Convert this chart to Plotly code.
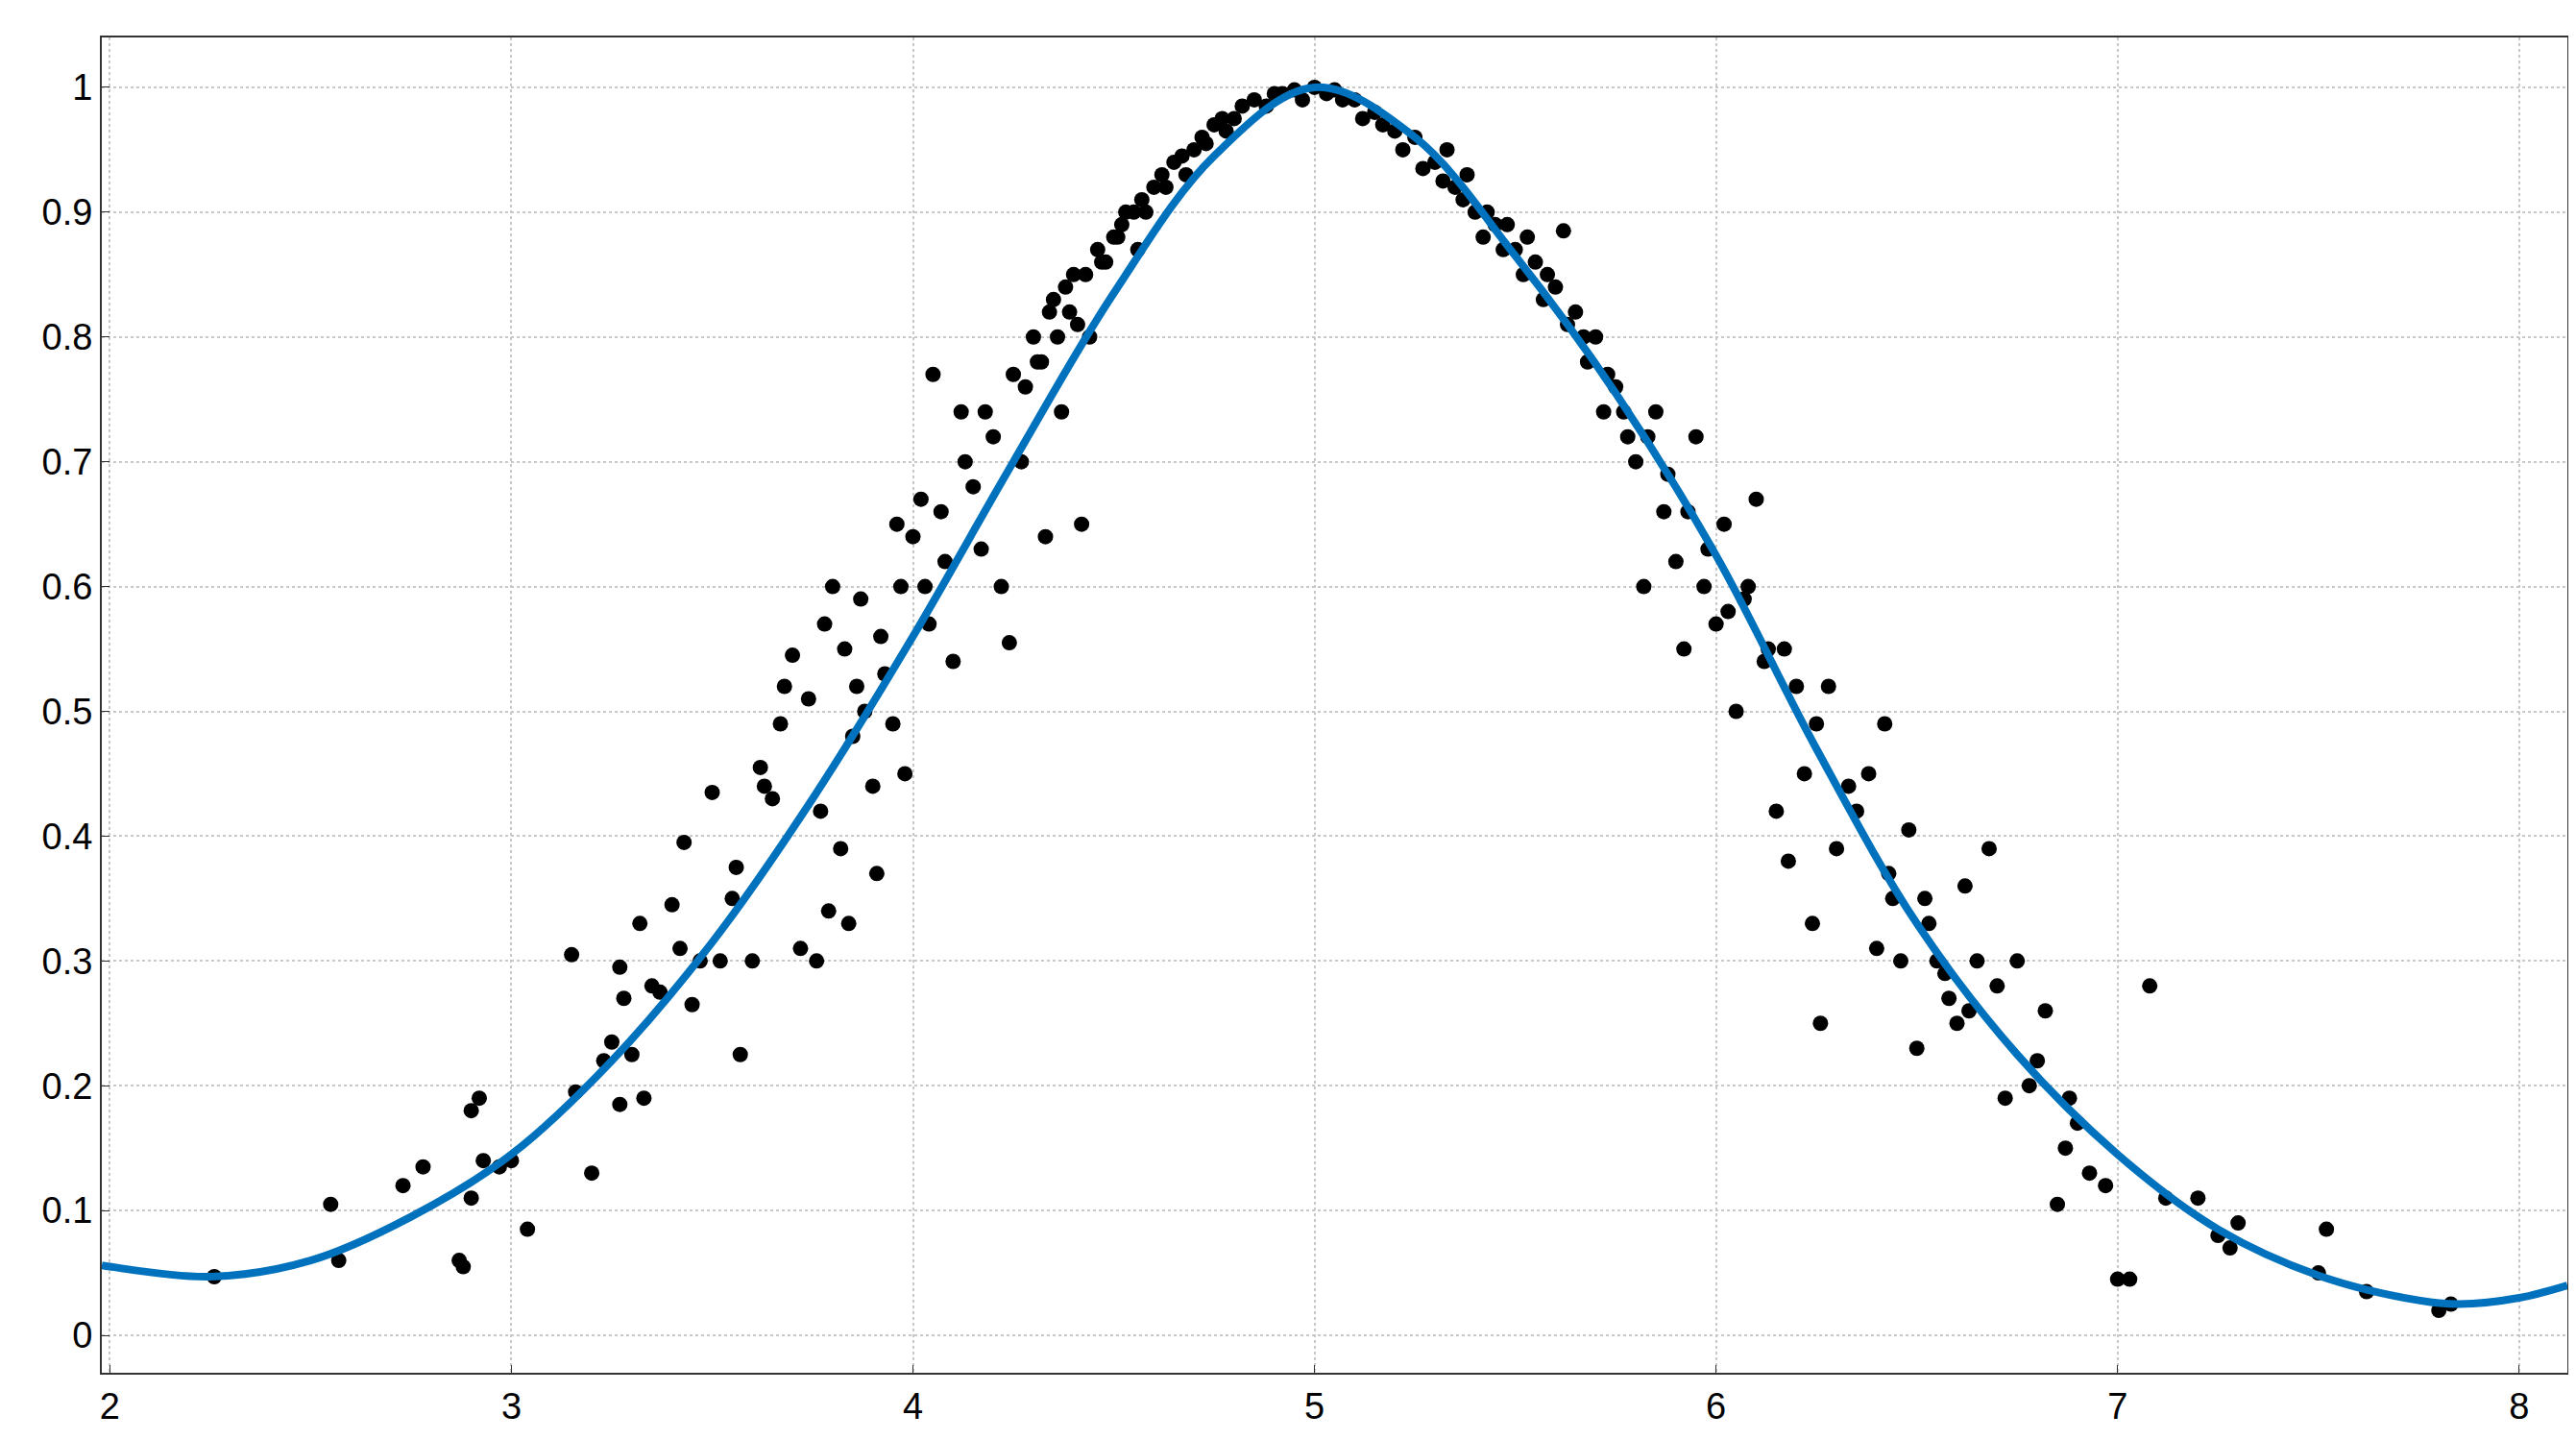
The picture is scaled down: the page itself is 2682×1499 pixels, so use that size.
import plotly.graph_objects as go

# fitted curve
curve_x = [1.98, 2.0, 2.25, 2.5, 2.75, 3.0, 3.25, 3.5, 3.75, 4.0, 4.25, 4.5, 4.75, 5.0,
           5.25, 5.5, 5.75, 6.0, 6.25, 6.5, 6.75, 7.0, 7.25, 7.5, 7.75, 7.85, 8.0, 8.12]
curve_y = [0.056, 0.055, 0.047, 0.06, 0.095, 0.145, 0.22, 0.315, 0.43, 0.56, 0.70, 0.835, 0.945, 1.0,
           0.96, 0.865, 0.755, 0.625, 0.47, 0.33, 0.225, 0.145, 0.085, 0.048, 0.028, 0.025, 0.03, 0.04]

# measured points
pts_x = [2.26, 2.55, 2.57, 2.73, 2.78, 2.87, 2.88, 2.9, 2.9, 2.92, 2.93, 2.97, 3.0, 3.04,
         3.15, 3.16, 3.2, 3.23, 3.25, 3.27, 3.27, 3.28, 3.3, 3.32, 3.33, 3.35, 3.37, 3.4,
         3.42, 3.43, 3.45, 3.47, 3.5, 3.52, 3.55, 3.56, 3.57, 3.6, 3.62, 3.63, 3.65, 3.67,
         3.68, 3.7, 3.72, 3.74, 3.76, 3.77, 3.78, 3.79, 3.8, 3.82, 3.83, 3.84, 3.85, 3.87,
         3.88, 3.9, 3.91, 3.93, 3.95, 3.96, 3.97, 3.98, 4.0, 4.02, 4.04, 4.05, 4.08, 4.1,
         4.12, 4.15, 4.17, 4.2, 4.22, 4.24, 4.25, 4.27, 4.3, 4.33, 4.35, 4.37, 4.4, 4.42,
         4.44, 4.46, 4.5, 4.53, 4.56, 4.6, 4.65, 4.7, 4.75, 4.8, 4.85, 4.9, 4.95, 5.0,
         3.86, 3.92, 4.03, 4.07, 4.13, 4.18, 4.28, 4.31, 4.34, 4.38, 4.41, 4.47, 4.52, 4.58,
         4.62, 4.68, 4.72, 4.78, 4.82, 4.88, 4.92, 4.97,
         4.32, 4.36, 4.39, 4.43, 4.48, 4.51, 4.55, 4.57, 4.63, 4.67, 4.73, 4.77,
         5.03, 5.07, 5.12, 5.17, 5.22, 5.27, 5.32, 5.37, 5.42, 5.47, 5.52, 5.57,
         5.33, 5.38, 5.43, 5.48, 5.53, 5.58,
         5.05, 5.1, 5.15, 5.2, 5.25, 5.3, 5.35, 5.4, 5.45, 5.5, 5.55, 5.6, 5.62, 5.65,
         5.68, 5.7, 5.72, 5.75, 5.78, 5.8, 5.82, 5.85, 5.87, 5.9, 5.92, 5.95, 5.97, 6.0,
         6.02, 6.05, 6.08, 6.1, 6.12, 6.15, 6.17, 6.18, 6.2, 6.22, 6.24, 6.25, 6.26, 6.28,
         6.3, 6.35, 6.38, 6.4, 6.42, 6.44, 6.46, 6.48, 6.5, 6.52, 6.55, 6.58, 6.6, 6.62,
         6.65, 6.68, 6.7, 6.72, 6.75, 6.78, 6.82, 6.85, 6.87, 6.9, 6.93, 6.97, 7.0, 7.03,
         7.08, 7.12, 7.2, 7.25, 7.28, 7.3, 7.5, 7.52, 7.62, 7.8, 7.83,
         5.63, 5.67, 5.73, 5.77, 5.83, 5.88, 5.93, 5.98, 6.03, 6.07, 6.13, 6.33, 6.43, 6.53,
         6.57, 6.63, 6.8, 6.88]
pts_y = [0.047, 0.105, 0.06, 0.12, 0.135, 0.06, 0.055, 0.11, 0.18, 0.19, 0.14, 0.135, 0.14, 0.085,
         0.305, 0.195, 0.13, 0.22, 0.235, 0.185, 0.295, 0.27, 0.225, 0.33, 0.19, 0.28, 0.275, 0.345,
         0.31, 0.395, 0.265, 0.3, 0.435, 0.3, 0.35, 0.375, 0.225, 0.3, 0.455, 0.44, 0.43, 0.49,
         0.52, 0.545, 0.31, 0.51, 0.3, 0.42, 0.57, 0.34, 0.6, 0.39, 0.55, 0.33, 0.48, 0.59,
         0.5, 0.44, 0.37, 0.53, 0.49, 0.65, 0.6, 0.45, 0.64, 0.67, 0.57, 0.77, 0.62, 0.54,
         0.74, 0.68, 0.63, 0.72, 0.6, 0.555, 0.77, 0.7, 0.8, 0.64, 0.83, 0.74, 0.85, 0.65,
         0.8, 0.87, 0.88, 0.9, 0.87, 0.92, 0.94, 0.95, 0.97, 0.975, 0.99, 0.995, 0.998, 1.0,
         0.52, 0.56, 0.6, 0.66, 0.7, 0.74, 0.76, 0.78, 0.82, 0.84, 0.81, 0.86, 0.89, 0.9,
         0.93, 0.93, 0.96, 0.965, 0.985, 0.985, 0.995, 0.99,
         0.78, 0.8, 0.82, 0.85, 0.86, 0.88, 0.9, 0.91, 0.92, 0.945, 0.955, 0.975,
         0.995, 0.99, 0.975, 0.97, 0.95, 0.935, 0.925, 0.91, 0.88, 0.87, 0.85, 0.83,
         0.95, 0.93, 0.9, 0.89, 0.88, 0.85,
         0.998, 0.99, 0.98, 0.965, 0.96, 0.94, 0.92, 0.9, 0.89, 0.87, 0.86, 0.84, 0.885, 0.82,
         0.78, 0.8, 0.74, 0.76, 0.72, 0.7, 0.6, 0.74, 0.66, 0.62, 0.55, 0.72, 0.6, 0.57,
         0.65, 0.5, 0.6, 0.67, 0.54, 0.42, 0.55, 0.38, 0.52, 0.45, 0.33, 0.49, 0.25, 0.52,
         0.39, 0.42, 0.45, 0.31, 0.49, 0.35, 0.3, 0.405, 0.23, 0.35, 0.3, 0.27, 0.25, 0.36,
         0.3, 0.39, 0.28, 0.19, 0.3, 0.2, 0.26, 0.105, 0.15, 0.17, 0.13, 0.12, 0.045, 0.045,
         0.28, 0.11, 0.11, 0.08, 0.07, 0.09, 0.05, 0.085, 0.035, 0.02, 0.025,
         0.81, 0.8, 0.77, 0.74, 0.72, 0.69, 0.66, 0.63, 0.58, 0.59, 0.55, 0.44, 0.37, 0.33,
         0.29, 0.26, 0.22, 0.19]

fig = go.Figure()
fig.add_trace(go.Scatter(x=pts_x, y=pts_y, mode="markers",
                         marker=dict(color="black", size=16)))
fig.add_trace(go.Scatter(x=curve_x, y=curve_y, mode="lines", line_shape="spline",
                         line=dict(color="#0072BD", width=8)))

axis = dict(showgrid=True, gridcolor="#c8c8c8", griddash="dot", gridwidth=1.5,
            showline=True, linecolor="#333", linewidth=2, mirror=True, zeroline=False,
            ticks="inside", ticklen=8, tickcolor="#333",
            tickfont=dict(family="Liberation Sans, Arial", size=38, color="black"))
fig.update_xaxes(axis, range=[1.98, 8.12], dtick=1)
fig.update_yaxes(axis, range=[-0.03, 1.04], tickvals=[i / 10 for i in range(11)],
                 ticktext=["0", "0.1", "0.2", "0.3", "0.4", "0.5", "0.6", "0.7", "0.8", "0.9", "1"])
fig.update_layout(width=2682, height=1499, showlegend=False,
                  plot_bgcolor="white", paper_bgcolor="white",
                  margin=dict(l=98, r=17, t=31, b=78))
fig.write_html("out.html")
